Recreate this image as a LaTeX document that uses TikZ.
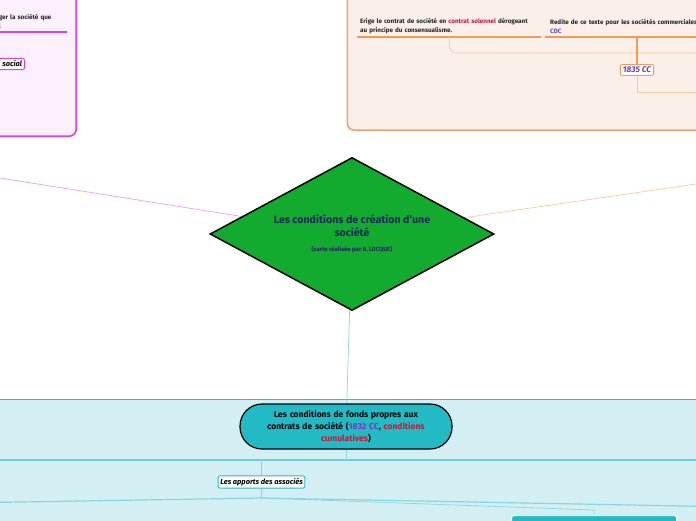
\documentclass[tikz,border=0pt]{standalone}
\usepackage{fontspec}
\setmainfont{Fira Sans}
\usetikzlibrary{shapes.geometric,positioning,backgrounds}
\definecolor{cPink}{HTML}{E03FE9}
\definecolor{cPinkBg}{HTML}{FDF0FD}
\definecolor{cPinkLink}{HTML}{EE9DF2}
\definecolor{cOrange}{HTML}{F4A274}
\definecolor{cOrangeLine}{HTML}{F39B50}
\definecolor{cOrangeBg}{HTML}{FBEFEA}
\definecolor{cOrangeLink}{HTML}{F9C89C}
\definecolor{cMain}{HTML}{13AB2F}
\definecolor{cNavy}{HTML}{1A2A58}
\definecolor{cTeal}{HTML}{2DBDC5}
\definecolor{cTealBg}{HTML}{D3EFF3}
\definecolor{cPill}{HTML}{22BAC4}
\definecolor{cTealLink}{HTML}{88D7DF}
\definecolor{cPurple}{HTML}{6A3FB6}
\definecolor{cRed}{HTML}{C8173A}

\begin{document}
\begin{tikzpicture}[
    x=1pt, y=-1pt,
    zone/.style={rounded corners=7pt, line width=1.6pt},
    topic/.style={align=left, inner sep=3pt, font=\fontsize{6.3}{9}\selectfont\bfseries, text=black!85},
    uline/.style={line width=1.2pt},
    tag/.style={draw, fill=white, rounded corners=2pt, inner sep=2.5pt, line width=0.9pt,
      font=\fontsize{7.4}{8}\selectfont\bfseries\itshape},
    link/.style={line width=0.7pt},
  ]
  \useasboundingbox (0,0) rectangle (696,520);

  % --- central diamond ---
  \node[diamond, draw=black, line width=1.5pt, fill=cMain, minimum width=284, minimum height=153,
    aspect=1.86, inner sep=0pt, align=center, text=cNavy, font=\fontsize{10.6}{13}\selectfont\bfseries]
    (main) at (352,234)
    {Les conditions de création d'une\\société\\[2pt]{\fontsize{6}{7}\selectfont (carte réalisée par A.\,LOCQUE)}};

  % --- pink branch (top left) ---
  \node[topic, anchor=south east, text width=64, minimum width=72] (protect) at (67,32)
    {ger la société que\\l};
  \node[tag, draw=cPink, anchor=east, text width=40, align=right] (social) at (25,64) {social};

  % --- orange branch (top right) ---
  \node[topic, anchor=south west, text width=178, minimum width=184] (erige) at (357,37)
    {Erige le contrat de société en \textcolor{cRed}{contrat solennel} dérogeant\\au principe du consensualisme.};
  \node[topic, anchor=south west, text width=200, minimum width=210] (redite) at (545,37)
    {Redite de ce texte pour les sociétés commerciales\\\textcolor{cPurple}{CDC}};
  \node[tag, draw=cOrangeLine, text=cPurple, font=\fontsize{8.3}{9}\selectfont\bfseries\itshape] (cc1835) at (637,70) {1835 CC};
  \coordinate (oEndA) at (710,53);
  \coordinate (oEndB) at (710,92);

  % --- teal branch (bottom) ---
  \node[draw=black, line width=1.2pt, fill=cPill, rounded corners=22pt, minimum width=212, minimum height=45,
    text width=190, align=center, inner sep=2pt, font=\fontsize{8.5}{12}\selectfont\bfseries]
    (pill) at (346,426.5)
    {Les conditions de fonds propres aux\\contrats de société (\textcolor{cPurple}{1832 CC}, \textcolor{cRed}{conditions}\\\textcolor{cRed}{cumulatives})};
  \node[tag, draw=cTeal, font=\fontsize{7.4}{8}\selectfont\bfseries\itshape, inner sep=2.2pt] (apports) at (261.5,482) {Les apports des associés};
  \node[draw=white, line width=1.2pt, fill=cPill, rounded corners=2pt, minimum width=165, minimum height=25,
    anchor=north west] (nextbox) at (511,515) {};
  \coordinate (barL) at (-10,460);
  \coordinate (barR) at (710,460);
  \coordinate (fork) at (261.5,498);
  \coordinate (forkL) at (-10,502.5);
  \coordinate (forkR) at (710,506.5);

  % --- zones and links behind ---
  \begin{scope}[on background layer]
    \node[zone, draw=cPink, fill=cPinkBg, minimum width=117, minimum height=157, anchor=south east] (pinkzone) at (77,137) {};
    \node[zone, draw=cOrange, fill=cOrangeBg, minimum width=414, minimum height=151, anchor=south west] (orangezone) at (346.5,131) {};
    \node[draw=cTeal, line width=1.6pt, fill=cTealBg, minimum width=740, minimum height=150, anchor=north west] (tealzone) at (-20,398.5) {};

    \draw[link, cPinkLink] (main) -- (-2,177.7);
    \draw[link, cOrangeLink] (main) -- (700,183.4);
    \draw[link, cTealLink] (main) -- (pill);

    \draw[uline, cPink] (protect.south west) -- (protect.south east);
    \draw[uline, cOrangeLine] (erige.south west) -- (erige.south east);
    \draw[uline, cOrangeLine] (redite.south west) -- (redite.south east);
    \draw[link, cOrangeLink] (erige.south) -- ++(0,11) -- ++(5,5) -- (oEndA);
    \draw[uline, cOrangeLine] (cc1835.north) -- (cc1835.north |- redite.south);
    \draw[link, cOrangeLink] (cc1835.south) |- (oEndB);

    \draw[link, cTeal!70, line width=1.2pt] (barL) -- (barR);
    \draw[link, cTealLink, line width=1pt] (pill.south) -- (pill.south |- barL);
    \draw[link, cTealLink] (apports.north) -- (apports.north |- barL);
    \draw[link, cTealLink] (apports.south) -- (fork);
    \draw[link, cTealLink, line width=1.2pt] (fork) -- (forkL);
    \draw[link, cTealLink, line width=1.2pt] (fork) -- (forkR);
    \draw[link, cTealLink] (fork) -- (594,510) -- (594,514) -- (nextbox.north -| 594,0);
  \end{scope}
\end{tikzpicture}
\end{document}
